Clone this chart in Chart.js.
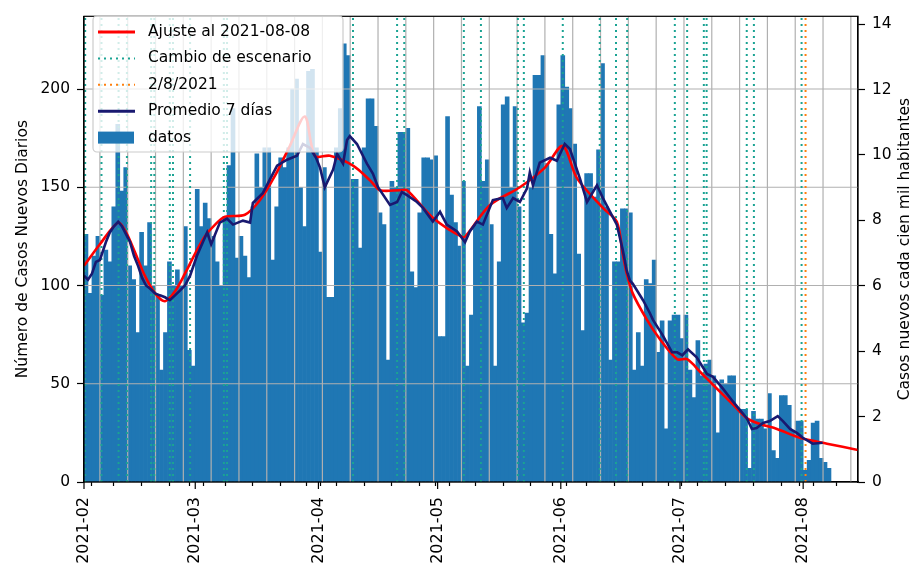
<!DOCTYPE html>
<html>
<head>
<meta charset="utf-8">
<script src="https://cdn.jsdelivr.net/npm/chart.js@4"></script>
<style>
  body { margin: 0; background: #fff; }
  canvas { display: block; }
</style>
</head>
<body>
<canvas id="chart" width="916" height="569"></canvas>
<script>
// days are counted from 2021-02-01 (day 0)
const dailyCases = [
  126, 96, 115, 125, 95, 118, 112, 140, 182, 148, 160, 110, 103, 76,
  127, 110, 132, 100, 95, 57, 76, 112, 100, 108, 100, 130, 67, 59,
  149, 130, 142, 134, 125, 112, 100, 135, 161, 190, 114, 125, 115, 104,
  140, 167, 150, 170, 170, 113, 140, 165, 160, 170, 200, 205, 150, 130,
  209, 210, 170, 117, 160, 94, 94, 170, 190, 223, 217, 154, 154, 119,
  170, 195, 195, 181, 137, 131, 62, 153, 150, 178, 178, 180, 107, 99,
  137, 165, 165, 164, 166, 74, 74, 186, 146, 132, 120, 153, 59, 85,
  131, 191, 153, 164, 131, 59, 112, 192, 196, 150, 191, 140, 81, 86,
  150, 207, 207, 217, 162, 126, 106, 192, 217, 201, 190, 172, 116, 77,
  157, 157, 145, 169, 213, 140, 62, 112, 112, 139, 139, 137, 57, 76,
  59, 103, 101, 113, 66, 82, 27, 82, 85, 85, 73, 85, 57, 43,
  72, 54, 60, 62, 54, 25, 52, 50, 54, 54, 37, 37, 37, 7,
  36, 32, 32, 27, 45, 16, 12, 44, 44, 39, 26, 31, 31, 6,
  11, 30, 31, 12, 10, 7
];

const avgDays = [
  0, 1, 2, 3, 4, 5.5, 6.5, 7.5, 8.6, 9.6, 10.6, 11.6, 12.6, 13.6, 14.6, 15.6, 16.6,
  17.9, 19.1, 20.4, 21.6, 22.9, 24.2, 25.4, 26.7, 28.4, 29.9, 31, 32, 34.2, 36, 37.5,
  40, 41.8, 42.5, 45, 46.8, 48.6, 51.1, 53.6, 55.1, 56.9, 58.4, 59.4, 60.6, 62.7, 63.7,
  65.2, 66.2, 66.9, 68.7, 71.2, 72.7, 74, 77, 78.8, 80, 81.3, 83.8, 85.3, 87.8, 89.6,
  91.3, 93.9, 95.9, 97.1, 98.9, 100.4, 102.9, 105.4, 106.4, 108, 109.7, 111.5, 112.2,
  113, 114.7, 117.3, 119, 121, 122.3, 124.8, 126.6, 129.1, 130.6, 132.4, 134.1, 135.6,
  136.6, 137.4, 138.1, 140.7, 142.4, 143.2, 145.7, 148, 149.3, 150.6, 152, 154.2, 156.8,
  158.3, 160.8, 163.3, 166.8, 168.1, 169.3, 170.9, 172.6, 174.6, 175.9, 177.7, 179.4,
  180.9, 183.4, 185.9
];
const avgCases = [
  105, 103, 106, 112, 113, 122, 127, 130, 132.5, 130, 126, 122, 115, 110, 104, 100, 98.5,
  96, 95, 94, 92.5, 95, 97.5, 100, 105, 115, 122, 127, 121, 132, 134, 131,
  133, 132, 142, 147, 154, 161, 164, 166, 172, 170, 165, 160, 150, 159, 167,
  162, 174, 176, 172, 162, 157, 150, 141, 142.5, 147.5, 146, 142.5, 139.5, 132.5, 137.5,
  131, 127.5, 122, 127.5, 132.5, 131, 143.5, 144.5, 139.5, 144.5, 142.5, 149.5, 157.5,
  151, 162.5, 165, 163.5, 172, 169.5, 154.5, 142.5, 151, 144.5, 137.5, 131, 118,
  107.5, 102.5, 101, 92.5, 86, 82.5, 74.5, 66, 66, 64.5, 67.5, 63.5, 55,
  53.5, 47.5, 41, 32.5, 27, 27.5, 30, 31, 33.5, 31, 27, 25,
  22.5, 19.5, 20
];

const fitDays = [
  0, 4, 8.6, 10.6, 12.8, 15.3, 17.9, 20.4, 22.9, 25.4, 27.9, 30.4, 33, 35.5, 40.5,
  44.3, 48.1, 51.8, 55.6, 58.1, 61.9, 67.7, 72, 74.5, 79.5, 81.3, 87.8, 95.4, 96.4,
  102.2, 109.7, 116, 120.5, 124.1, 130.6, 134.1, 135.6, 136.6, 138.1, 141.7, 145,
  149.3, 151.8, 155.1, 158.3, 163.3, 166.8, 170.1, 174.4, 180.2, 187, 194.8
];
const fitCases = [
  110, 121, 132, 127, 117, 105, 96, 92, 97, 106, 116, 125, 131, 135, 136,
  143.5, 156, 171, 186, 166, 166, 161, 153.5, 148.5, 148.5, 148.5, 134.5, 124.5, 126,
  141, 150, 160, 171, 154.5, 139.5, 132.5, 116, 106, 96, 82.5, 72.5,
  62.5, 62.5, 56, 49.5, 39.5, 32.5, 29.5, 27, 22.5, 19.5, 16.3
];

const scenarioDays = [
  0.3, 4.4, 8.7, 10.8, 16.9, 17.7, 21.6, 22.4, 26.7, 35.2, 36.0, 67.7, 78.8, 80.6,
  95.6, 99.9, 109.2, 110.7, 120.5, 129.8, 133.9, 136.7, 148.7, 151.8, 156.0, 156.7,
  166.8, 168.6, 180.6
];
const markDay = 181.6;

const monthDays = [0, 28, 59, 89, 120, 150, 181];
const monthLabels = ['2021-02', '2021-03', '2021-04', '2021-05', '2021-06', '2021-07', '2021-08'];
const weekDays = [4, 11, 18, 25, 32, 39, 46, 53, 60, 67, 74, 81, 88, 95, 102, 109,
  116, 123, 130, 137, 144, 151, 158, 165, 172, 179, 186, 193];
const leftTicks = [0, 50, 100, 150, 200];
const rightTicks = [0, 2, 4, 6, 8, 10, 12, 14];

const FONT = "'DejaVu Sans', sans-serif";
const TEAL = '#1aa393';
Chart.defaults.font.family = FONT;
Chart.defaults.font.size = 15.5;
Chart.defaults.color = '#000';

const scenarioPts = [];
scenarioDays.forEach(d => {
  scenarioPts.push({ x: d, y: 0 }, { x: d, y: 260 }, { x: d, y: null });
});

const legendItems = [
  { label: 'Ajuste al 2021-08-08', kind: 'line', color: '#ff0000', dash: [] },
  { label: 'Cambio de escenario', kind: 'line', color: TEAL, dash: [2, 4] },
  { label: '2/8/2021', kind: 'line', color: '#ff7f0e', dash: [2, 4] },
  { label: 'Promedio 7 días', kind: 'line', color: '#191970', dash: [] },
  { label: 'datos', kind: 'box', color: '#1f77b4' }
];

const overlay = {
  id: 'overlay',
  afterDatasetDraw(chart, args) {
    // grid goes over the bars but under the lines, like in matplotlib
    if (args.index !== 0) return;
    const { ctx, chartArea: a, scales } = chart;
    ctx.save();
    ctx.beginPath();
    ctx.rect(a.left, a.top, a.right - a.left, a.bottom - a.top);
    ctx.clip();
    ctx.strokeStyle = '#b0b0b0';
    ctx.lineWidth = 1.2;
    weekDays.forEach(d => {
      const x = scales.x.getPixelForValue(d);
      ctx.beginPath();
      ctx.moveTo(x, a.top);
      ctx.lineTo(x, a.bottom);
      ctx.stroke();
    });
    leftTicks.forEach(v => {
      if (v === 0) return;
      const y = scales.y.getPixelForValue(v);
      ctx.beginPath();
      ctx.moveTo(a.left, y);
      ctx.lineTo(a.right, y);
      ctx.stroke();
    });
    ctx.restore();
  },
  afterDraw(chart) {
    const { ctx, chartArea: a, scales } = chart;
    ctx.save();
    // frame
    ctx.strokeStyle = '#000';
    ctx.lineWidth = 1.2;
    ctx.strokeRect(a.left, a.top, a.right - a.left, a.bottom - a.top);
    // longer ticks for month starts
    monthDays.forEach(d => {
      const x = scales.x.getPixelForValue(d);
      ctx.beginPath();
      ctx.moveTo(x, a.bottom);
      ctx.lineTo(x, a.bottom + 7);
      ctx.stroke();
    });
    // axis titles
    ctx.fillStyle = '#000';
    ctx.font = '15.5px ' + FONT;
    ctx.textAlign = 'center';
    ctx.textBaseline = 'middle';
    const midY = (a.top + a.bottom) / 2;
    ctx.save();
    ctx.translate(23, midY);
    ctx.rotate(-Math.PI / 2);
    ctx.fillText('Número de Casos Nuevos Diarios', 0, 0);
    ctx.restore();
    ctx.save();
    ctx.translate(905, midY);
    ctx.rotate(-Math.PI / 2);
    ctx.fillText('Casos nuevos cada cien mil habitantes', 0, 0);
    ctx.restore();

    // legend box
    const bx = 93, by = 16, bw = 250, bh = 136, r = 4;
    ctx.beginPath();
    ctx.moveTo(bx + r, by);
    ctx.arcTo(bx + bw, by, bx + bw, by + bh, r);
    ctx.arcTo(bx + bw, by + bh, bx, by + bh, r);
    ctx.arcTo(bx, by + bh, bx, by, r);
    ctx.arcTo(bx, by, bx + bw, by, r);
    ctx.closePath();
    ctx.fillStyle = 'rgba(255,255,255,0.8)';
    ctx.fill();
    ctx.strokeStyle = '#cccccc';
    ctx.lineWidth = 1.2;
    ctx.stroke();
    ctx.textAlign = 'left';
    legendItems.forEach((it, i) => {
      const y = 32 + i * 26.4;
      if (it.kind === 'line') {
        ctx.strokeStyle = it.color;
        ctx.lineWidth = it.dash.length ? 2 : 3;
        ctx.setLineDash(it.dash);
        ctx.beginPath();
        ctx.moveTo(98, y);
        ctx.lineTo(135, y);
        ctx.stroke();
        ctx.setLineDash([]);
      } else {
        ctx.fillStyle = it.color;
        ctx.fillRect(98, y - 6, 36, 12);
      }
      ctx.fillStyle = '#000';
      ctx.fillText(it.label, 148, y);
    });
    ctx.restore();
  }
};

new Chart(document.getElementById('chart'), {
  type: 'bar',
  data: {
    datasets: [
      {
        type: 'bar',
        label: 'datos',
        data: dailyCases.map((v, i) => ({ x: i + 0.5, y: v })),
        backgroundColor: '#1f77b4',
        borderWidth: 0,
        barPercentage: 1,
        categoryPercentage: 1,
        order: 10
      },
      {
        type: 'line',
        label: 'Cambio de escenario',
        data: scenarioPts,
        borderColor: TEAL,
        borderWidth: 2,
        borderDash: [2, 4],
        pointRadius: 0,
        spanGaps: false,
        order: 5
      },
      {
        type: 'line',
        label: '2/8/2021',
        data: [{ x: markDay, y: 0 }, { x: markDay, y: 260 }],
        borderColor: '#ff7f0e',
        borderWidth: 2,
        borderDash: [2, 4],
        pointRadius: 0,
        order: 4
      },
      {
        type: 'line',
        label: 'Ajuste al 2021-08-08',
        data: fitDays.map((d, i) => ({ x: d, y: fitCases[i] })),
        borderColor: '#ff0000',
        borderWidth: 2.6,
        pointRadius: 0,
        tension: 0.3,
        order: 2
      },
      {
        type: 'line',
        label: 'Promedio 7 días',
        data: avgDays.map((d, i) => ({ x: d, y: avgCases[i] })),
        borderColor: '#191970',
        borderWidth: 2.6,
        pointRadius: 0,
        tension: 0,
        order: 1
      }
    ]
  },
  options: {
    responsive: false,
    animation: false,
    devicePixelRatio: 1,
    layout: { padding: { top: 7, left: 0, right: 0, bottom: 0 } },
    plugins: { legend: { display: false }, tooltip: { enabled: false } },
    scales: {
      x: {
        type: 'linear',
        min: 0,
        max: 194.8,
        offset: false,
        afterBuildTicks(scale) {
          const all = monthDays.concat(weekDays).sort((p, q) => p - q);
          scale.ticks = all.map(v => ({ value: v }));
        },
        afterFit(scale) { scale.height = 87; },
        ticks: {
          autoSkip: false,
          maxRotation: 90,
          minRotation: 90,
          padding: 11,
          font: { size: 16 },
          callback(value) {
            const k = monthDays.indexOf(value);
            return k >= 0 ? monthLabels[k] : '';
          }
        },
        grid: { drawOnChartArea: false, tickLength: 4, tickColor: '#000', tickWidth: 1.2 },
        border: { color: '#000', width: 1.2 }
      },
      y: {
        position: 'left',
        min: 0,
        max: 237,
        afterBuildTicks(scale) { scale.ticks = leftTicks.map(v => ({ value: v })); },
        afterFit(scale) { scale.width = 84; },
        ticks: { padding: 7 },
        grid: { drawOnChartArea: false, tickLength: 7, tickColor: '#000', tickWidth: 1.2 },
        border: { color: '#000', width: 1.2 }
      },
      y2: {
        position: 'right',
        display: true,
        min: 0,
        max: 14.24,
        afterBuildTicks(scale) { scale.ticks = rightTicks.map(v => ({ value: v })); },
        afterFit(scale) { scale.width = 58; },
        ticks: { padding: 7 },
        grid: { drawOnChartArea: false, tickLength: 7, tickColor: '#000', tickWidth: 1.2 },
        border: { color: '#000', width: 1.2 }
      }
    }
  },
  plugins: [overlay]
});
</script>
</body>
</html>
